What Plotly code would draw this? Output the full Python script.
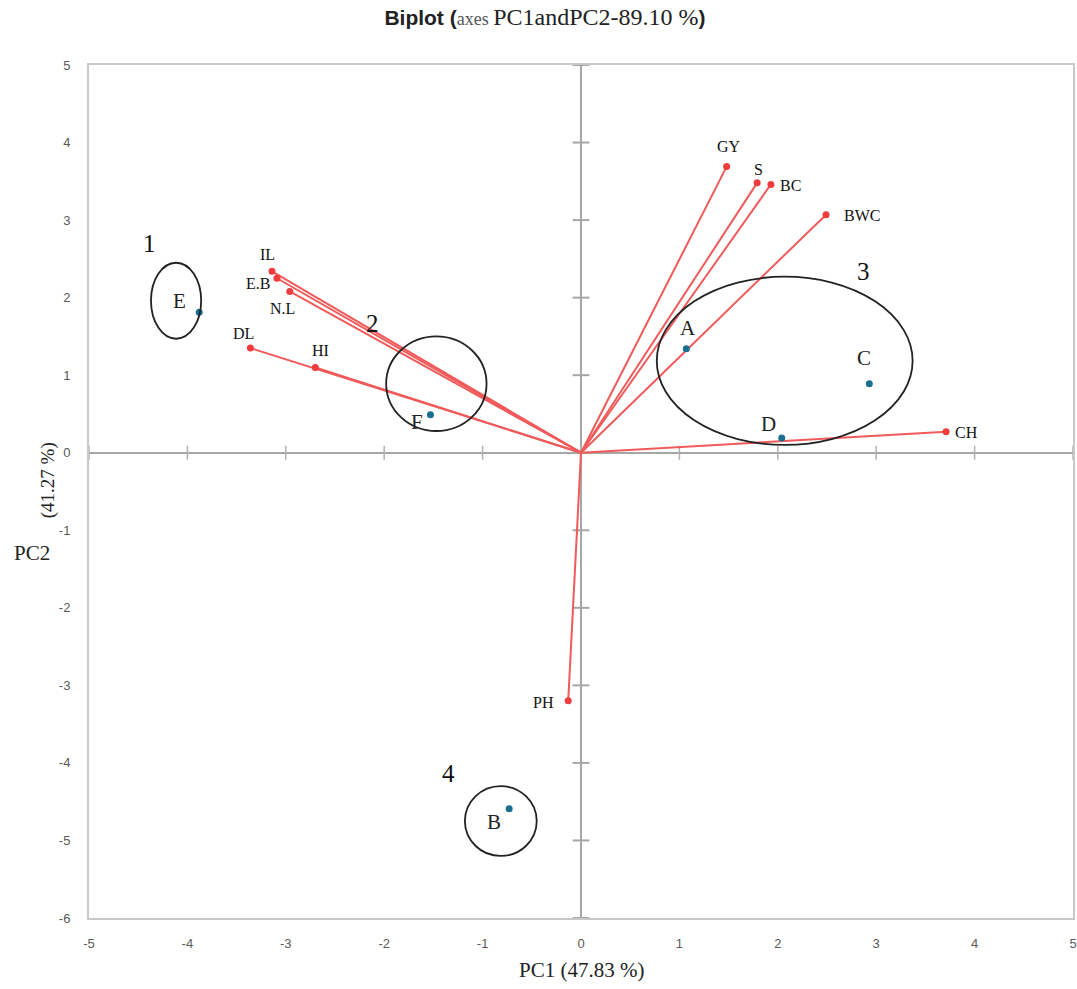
import plotly.graph_objects as go

# Variable loadings (red vectors)
var_names = ["GY", "S", "BC", "BWC", "CH", "IL", "E.B", "N.L", "DL", "HI", "PH"]
var_pc1 = [1.48, 1.79, 1.93, 2.49, 3.71, -3.14, -3.09, -2.96, -3.36, -2.70, -0.13]
var_pc2 = [3.69, 3.48, 3.46, 3.07, 0.27, 2.34, 2.25, 2.08, 1.35, 1.10, -3.20]

# Genotype scores (blue points)
geno_names = ["E", "F", "A", "C", "D", "B"]
geno_pc1 = [-3.88, -1.53, 1.07, 2.93, 2.04, -0.73]
geno_pc2 = [1.81, 0.49, 1.34, 0.89, 0.19, -4.59]

# Cluster ellipses: label, x0, x1, y0, y1
clusters = ["1", "2", "3", "4"]
cl_x0 = [-4.37, -1.98, 0.77, -1.18]
cl_x1 = [-3.86, -0.96, 3.37, -0.45]
cl_y0 = [1.47, 0.28, 0.10, -5.20]
cl_y1 = [2.45, 1.50, 2.27, -4.30]

xticks = [-5, -4, -3, -2, -1, 0, 1, 2, 3, 4, 5]
yticks = [5, 4, 3, 2, 1, 0, -1, -2, -3, -4, -5, -6]

RED = "#f05a5a"
BLUE = "#1a6f8f"
SERIF = "Liberation Serif, Times New Roman, serif"

fig = go.Figure()

# tick marks along the zero axes
fig.add_trace(go.Scatter(x=[0] * len(yticks), y=yticks, mode="markers",
                         marker=dict(symbol="line-ew", size=12,
                                     line=dict(color="#a6a6a6", width=2)),
                         hoverinfo="skip", showlegend=False))
fig.add_trace(go.Scatter(x=xticks, y=[0] * len(xticks), mode="markers",
                         marker=dict(symbol="line-ns", size=10,
                                     line=dict(color="#b0b0b0", width=1.5)),
                         hoverinfo="skip", showlegend=False))

# vectors
for n, x, y in zip(var_names, var_pc1, var_pc2):
    fig.add_trace(go.Scatter(x=[0, x], y=[0, y], mode="lines",
                             line=dict(color=RED, width=2),
                             hoverinfo="skip", showlegend=False))
fig.add_trace(go.Scatter(x=var_pc1, y=var_pc2, mode="markers",
                         marker=dict(color="#f03c3c", size=7),
                         showlegend=False))

# genotypes
fig.add_trace(go.Scatter(x=geno_pc1, y=geno_pc2, mode="markers",
                         marker=dict(color=BLUE, size=7), showlegend=False))

# variable labels
var_off = {"GY": (2, 20), "S": (1, 13), "BC": (20, -1), "BWC": (36, -1),
           "CH": (20, -1), "IL": (-5, 17), "E.B": (-19, -5), "N.L": (-7, -17),
           "DL": (-7, 15), "HI": (5, 17), "PH": (-25, -2)}
for n, x, y in zip(var_names, var_pc1, var_pc2):
    dx, dy = var_off[n]
    fig.add_annotation(x=x, y=y, text=n, showarrow=False, xshift=dx, yshift=dy,
                       font=dict(family=SERIF, size=16, color="#111"))

geno_off = {"E": (-20, 11), "F": (-13, -7), "A": (2, 21), "C": (-5, 26),
            "D": (-13, 14), "B": (-15, -13)}
for n, x, y in zip(geno_names, geno_pc1, geno_pc2):
    dx, dy = geno_off[n]
    fig.add_annotation(x=x, y=y, text=n, showarrow=False, xshift=dx, yshift=dy,
                       font=dict(family=SERIF, size=21, color="#222"))

# cluster ellipses and numbers
num_pos = {"1": (-1, 19), "2": (-14, 13), "3": (-49, 5), "4": (-16, 13)}
for lab, x0, x1, y0, y1 in zip(clusters, cl_x0, cl_x1, cl_y0, cl_y1):
    fig.add_shape(type="circle", xref="x", yref="y", x0=x0, x1=x1, y0=y0, y1=y1,
                  line=dict(color="#222", width=1.8))
    dx, dy = num_pos[lab]
    fig.add_annotation(x=x0 if lab != "3" else x1, y=y1, text=lab, showarrow=False,
                       xshift=dx, yshift=dy,
                       font=dict(family=SERIF, size=25, color="#111"))

# axis titles
fig.add_annotation(xref="paper", yref="paper", x=0.5, y=-0.061, yanchor="middle",
                   text="PC1 (47.83 %)", showarrow=False,
                   font=dict(family=SERIF, size=21, color="#222"))
fig.add_annotation(xref="paper", yref="paper", x=-0.078, y=0.428, xanchor="left",
                   text="PC2", showarrow=False,
                   font=dict(family=SERIF, size=21, color="#222"))
fig.add_annotation(xref="paper", yref="paper", x=-0.054, y=0.513,
                   text="(41.27 %)", showarrow=False, textangle=-90,
                   font=dict(family=SERIF, size=19, color="#222"))

title = ('<b>Biplot (</b><span style="font-family:Liberation Serif;font-size:18px;color:#555">axes </span>'
         '<span style="font-family:Liberation Serif;font-size:24px">PC1andPC2-89.10 %</span><b>)</b>')

tickfont = dict(family="Liberation Sans, Arial", size=13, color="#595959")

fig.update_layout(
    width=1077, height=989,
    margin=dict(l=89, r=4, t=65, b=71),
    paper_bgcolor="white", plot_bgcolor="white",
    title=dict(text=title, x=0.506, xanchor="center", y=0.982, yanchor="middle",
               font=dict(family="Liberation Sans, Arial, sans-serif", size=21, color="#222")),
    xaxis=dict(range=[-5, 5], tickvals=xticks, ticktext=[str(v) for v in xticks],
               showgrid=False, zeroline=True, automargin=False,
               zerolinecolor="#a6a6a6", zerolinewidth=2,
               showline=True, mirror=True, linecolor="#c8c8c8", linewidth=2,
               ticks="", ticklabelstandoff=12, tickfont=tickfont),
    yaxis=dict(range=[-6, 5], tickvals=yticks, ticktext=[str(v) for v in yticks],
               showgrid=False, zeroline=True, automargin=False,
               zerolinecolor="#a6a6a6", zerolinewidth=2,
               showline=True, mirror=True, linecolor="#c8c8c8", linewidth=2,
               ticks="", ticklabelstandoff=14, tickfont=tickfont),
)

# remove the browser's default body margin so the figure fills the window
fig.write_html("out.html", config={"displayModeBar": False},
               post_script="document.body.style.margin='0';document.body.style.overflow='hidden';")
